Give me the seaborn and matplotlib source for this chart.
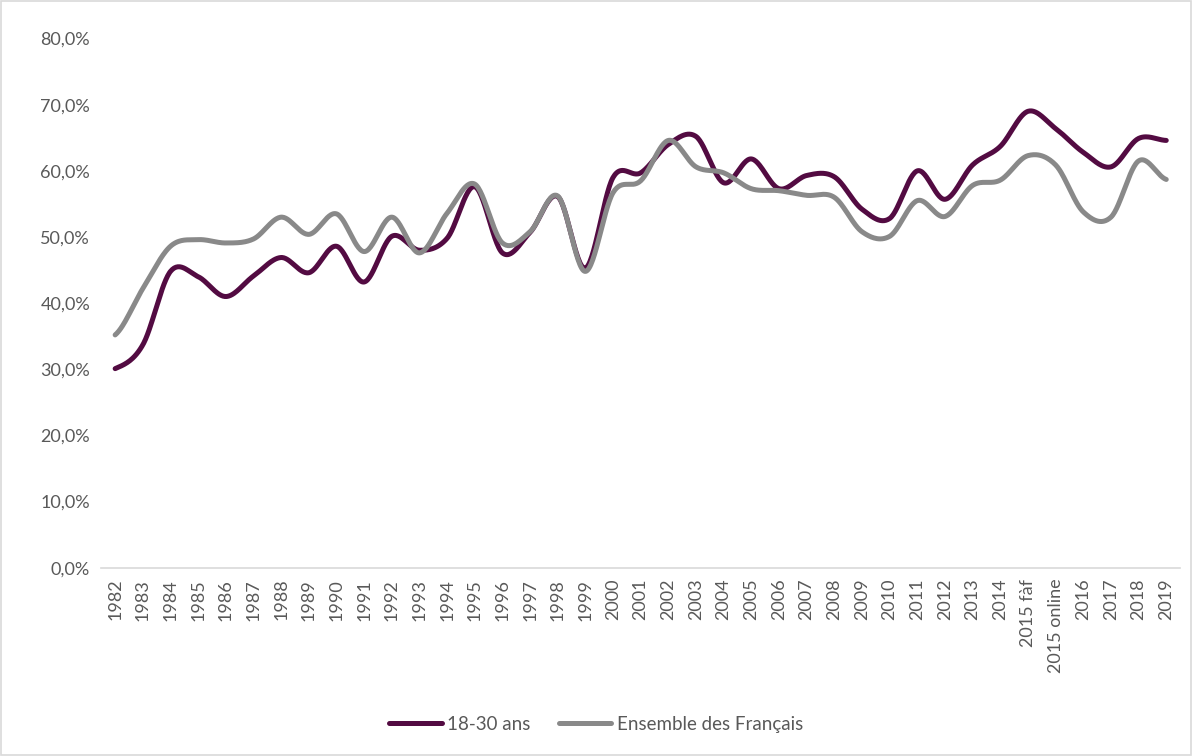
import numpy as np
import pandas as pd
import matplotlib
matplotlib.use("Agg")
import matplotlib.pyplot as plt
import seaborn as sns
from matplotlib.patches import Rectangle

# donnees
annees = ["1982", "1983", "1984", "1985", "1986", "1987", "1988", "1989", "1990",
          "1991", "1992", "1993", "1994", "1995", "1996", "1997", "1998", "1999",
          "2000", "2001", "2002", "2003", "2004", "2005", "2006", "2007", "2008",
          "2009", "2010", "2011", "2012", "2013", "2014", "2015 fàf", "2015 online",
          "2016", "2017", "2018", "2019"]
jeunes = [30.1, 33.7, 44.8, 44.0, 41.0, 44.1, 46.9, 44.6, 48.6, 43.2, 50.1, 48.0,
          49.8, 57.6, 47.6, 50.7, 56.1, 45.3, 59.0, 59.7, 64.0, 65.2, 58.2, 61.8,
          57.3, 59.3, 59.1, 54.2, 52.8, 60.0, 55.7, 60.9, 63.7, 69.0, 66.4, 62.8,
          60.6, 64.9, 64.6]
ensemble = [35.2, 42.2, 48.6, 49.6, 49.1, 49.7, 53.0, 50.4, 53.5, 47.8, 53.0, 47.6,
            53.6, 58.0, 49.1, 50.8, 56.2, 44.8, 56.7, 58.5, 64.6, 60.6, 59.7, 57.3,
            57.0, 56.3, 56.0, 50.8, 50.1, 55.5, 53.1, 57.8, 58.6, 62.3, 60.9, 53.8,
            53.0, 61.5, 58.7]
series = {"18-30 ans": jeunes, "Ensemble des Français": ensemble}
couleurs = {"18-30 ans": "#530b42", "Ensemble des Français": "#898989"}


# courbe lissée façon Excel (Catmull-Rom)
def lisser(y, n=30):
    y = np.asarray(y, dtype=float)
    p = np.concatenate([[y[0]], y, [y[-1]]])
    xs, ys = [], []
    for i in range(len(y) - 1):
        p0, p1, p2, p3 = p[i], p[i + 1], p[i + 2], p[i + 3]
        t = np.linspace(0, 1, n, endpoint=False)
        c1 = p1 + (p2 - p0) / 6
        c2 = p2 - (p3 - p1) / 6
        b = ((1 - t) ** 3) * p1 + 3 * ((1 - t) ** 2) * t * c1 + 3 * (1 - t) * t ** 2 * c2 + t ** 3 * p2
        xs.extend(i + t)
        ys.extend(b)
    xs.append(len(y) - 1)
    ys.append(y[-1])
    return np.array(xs), np.array(ys)


rows = []
for nom, vals in series.items():
    xs, ys = lisser(vals)
    rows.append(pd.DataFrame({"x": xs, "y": ys, "serie": nom}))
df = pd.concat(rows, ignore_index=True)

sns.set_theme(style="white")
plt.rcParams["font.family"] = ["Lato", "DejaVu Sans"]

fig = plt.figure(figsize=(11.92, 7.56), dpi=100)
ax = fig.add_axes([0.085, 0.249, 0.905, 0.70])

sns.lineplot(data=df, x="x", y="y", hue="serie", palette=couleurs, linewidth=3.6,
             ax=ax, legend=False, sort=False, estimator=None)

ax.set_xlim(-0.5, len(annees) - 0.5)
ax.set_ylim(0, 80)
ax.set_yticks(np.arange(0, 81, 10))
ax.set_yticklabels([f"{v:.1f}%".replace(".", ",") for v in np.arange(0, 81, 10)],
                   color="#595959", fontsize=13)
ax.set_xticks(range(len(annees)))
ax.set_xticklabels(annees, rotation=90, color="#595959", fontsize=13)
ax.tick_params(axis="both", length=0, pad=8)
ax.set_xlabel("")
ax.set_ylabel("")
for s in ["top", "right", "left"]:
    ax.spines[s].set_visible(False)
ax.spines["bottom"].set_color("#d9d9d9")
ax.spines["bottom"].set_linewidth(1.2)

handles = [plt.Line2D([0], [0], color=couleurs[n], lw=3.6, solid_capstyle="round") for n in series]
fig.legend(handles, list(series.keys()), loc="center", bbox_to_anchor=(0.5, 0.042), ncol=2,
           frameon=False, fontsize=13.5, labelcolor="#595959", handlelength=2.8,
           handletextpad=0.3, columnspacing=1.5)

fig.patches.append(Rectangle((0.001, 0.001), 0.998, 0.998, transform=fig.transFigure,
                             fill=False, edgecolor="#d9d9d9", linewidth=1.2))

fig.savefig("out.png", dpi=100)
